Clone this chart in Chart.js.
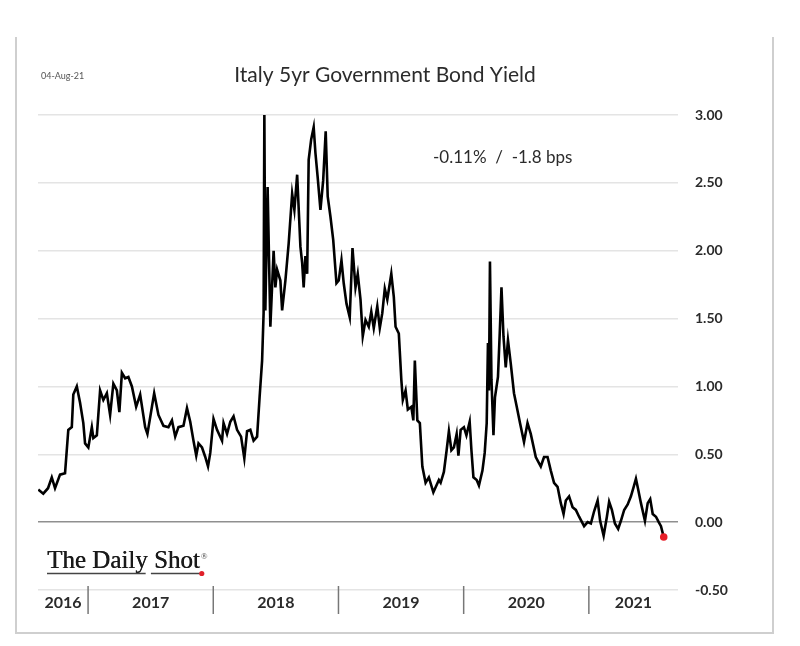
<!DOCTYPE html>
<html>
<head>
<meta charset="utf-8">
<script src="https://cdn.jsdelivr.net/npm/chart.js@4.4.1/dist/chart.umd.min.js"></script>
<style>
body{margin:0;background:#fff;}
</style>
</head>
<body>
<canvas id="c" width="800" height="646"></canvas>
<script>
// dates as decimal years, yields in %
const years = [2016.602,2016.642,2016.680,2016.710,2016.736,2016.776,2016.816,2016.842,2016.870,2016.882,2016.910,2016.936,2016.962,2016.976,2017.002,2017.030,2017.042,2017.070,2017.096,2017.122,2017.150,2017.176,2017.202,2017.230,2017.250,2017.270,2017.296,2017.322,2017.350,2017.384,2017.416,2017.456,2017.474,2017.510,2017.528,2017.562,2017.602,2017.642,2017.670,2017.696,2017.722,2017.762,2017.790,2017.816,2017.842,2017.864,2017.882,2017.910,2017.936,2017.958,2017.976,2018.002,2018.030,2018.070,2018.082,2018.110,2018.136,2018.162,2018.190,2018.222,2018.248,2018.270,2018.296,2018.322,2018.350,2018.370,2018.390,2018.402,2018.408,2018.416,2018.434,2018.456,
2018.482,2018.496,2018.510,2018.536,2018.550,2018.576,2018.602,2018.630,2018.648,2018.670,2018.696,2018.710,2018.722,2018.736,2018.750,2018.762,2018.782,2018.802,2018.816,2018.834,2018.856,2018.878,2018.898,2018.914,2018.936,2018.958,2018.984,2019.002,2019.024,2019.042,2019.064,2019.090,2019.112,2019.136,2019.154,2019.176,2019.194,2019.216,2019.242,2019.262,2019.282,2019.310,2019.330,2019.350,2019.370,2019.390,2019.422,2019.442,2019.456,2019.482,2019.502,2019.514,2019.536,2019.554,2019.582,2019.598,2019.610,2019.630,2019.650,2019.670,2019.696,2019.722,2019.758,2019.802,
2019.816,2019.842,2019.864,2019.882,2019.902,2019.922,2019.944,2019.958,2019.976,2020.002,2020.022,2020.048,2020.062,2020.078,2020.104,2020.122,2020.150,2020.168,2020.184,2020.194,2020.202,2020.210,2020.222,2020.238,2020.250,2020.274,2020.288,2020.302,2020.318,2020.336,2020.354,2020.376,2020.402,2020.424,2020.450,
2020.482,2020.510,2020.536,2020.576,2020.616,2020.642,2020.670,2020.696,2020.722,2020.750,2020.776,2020.798,2020.816,2020.842,2020.870,2020.896,2020.922,2020.962,2020.990,2021.016,2021.042,2021.070,2021.090,2021.118,2021.144,2021.162,2021.184,2021.208,2021.234,2021.256,2021.282,2021.310,2021.336,2021.358,2021.376,2021.394,2021.416,2021.448,2021.470,2021.490,2021.510,2021.536,2021.558,2021.576,2021.598];

const yields = [0.24,0.21,0.25,0.33,0.25,0.35,0.36,0.68,0.70,0.94,1.00,0.88,0.73,0.58,0.55,0.70,0.62,0.64,0.97,0.90,0.95,0.79,1.02,0.97,0.81,1.10,1.06,1.07,1.00,0.85,0.94,0.70,0.65,0.85,0.95,0.79,0.71,0.70,0.75,0.63,0.70,0.71,0.84,0.74,0.60,0.49,0.58,0.55,0.48,0.41,0.51,0.76,0.68,0.60,0.73,0.65,0.74,0.78,0.68,0.63,0.47,0.67,0.68,0.60,0.63,0.92,1.19,1.54,3.01,1.56,2.47,1.44,
2.00,1.73,1.86,1.78,1.56,1.78,2.05,2.42,2.30,2.56,2.03,1.91,1.73,1.96,1.83,2.67,2.82,2.91,2.72,2.54,2.30,2.52,2.88,2.40,2.25,2.08,1.76,1.78,1.93,1.76,1.61,1.51,2.02,1.73,1.83,1.64,1.37,1.49,1.44,1.55,1.43,1.59,1.43,1.54,1.72,1.64,1.83,1.66,1.44,1.39,1.05,0.90,0.97,0.83,0.85,0.75,1.19,0.75,0.73,0.41,0.29,0.33,0.22,0.31,
0.29,0.37,0.53,0.67,0.53,0.55,0.65,0.49,0.68,0.70,0.64,0.74,0.53,0.33,0.31,0.27,0.38,0.51,0.73,1.32,0.97,1.92,1.05,0.64,0.92,1.07,1.39,1.73,1.37,1.14,1.34,1.17,0.95,0.85,0.73,
0.59,0.73,0.65,0.48,0.41,0.48,0.48,0.38,0.29,0.26,0.14,0.06,0.16,0.19,0.11,0.09,0.04,-0.03,0.00,-0.01,0.08,0.16,0.01,-0.10,0.04,0.15,0.09,-0.01,-0.05,0.01,0.09,0.13,0.19,0.26,0.32,0.24,0.14,0.01,0.14,0.17,0.06,0.04,0.00,-0.03,-0.11];

const yTicks = [-0.5,0,0.5,1,1.5,2,2.5,3];
const yearLabels = [2016,2017,2018,2019,2020,2021];
const xMin = 2016.6, xMax = 2021.712;

const titleText = "Italy 5yr Government Bond Yield";
const dateText = "04-Aug-21";
const noteText = "-0.11%  /  -1.8 bps";

const pts = years.map((x,i)=>({x:x,y:yields[i]}));
const last = pts.length-1;

const deco = {
  id:"deco",
  afterDraw(chart){
    const c = chart.ctx;
    const xs = chart.scales.x;
    c.save();
    // frame (no top edge)
    c.strokeStyle="#cfcfcf"; c.lineWidth=2;
    c.beginPath();
    c.moveTo(16,37); c.lineTo(16,633); c.lineTo(773,633); c.lineTo(773,37);
    c.stroke();

    // title + date
    c.fillStyle="#2b2b2b"; c.textBaseline="middle";
    c.font='21px Lato'; c.textAlign="center";
    c.fillText(titleText,385,75);
    c.font='9px Lato'; c.textAlign="left"; c.fillStyle="#555";
    c.fillText(dateText,41,76);

    // note
    c.font='17px Lato'; c.fillStyle="#2b2b2b";
    c.fillText(noteText,433,158);

    // year separators + labels
    c.strokeStyle="#777"; c.lineWidth=1.5;
    yearLabels.forEach(yr=>{
      if(yr>xMin){
        const px = xs.getPixelForValue(yr);
        c.beginPath(); c.moveTo(px,586); c.lineTo(px,614); c.stroke();
      }
      const a = xs.getPixelForValue(Math.max(yr,xMin));
      const b = xs.getPixelForValue(Math.min(yr+1,xMax));
      c.font='bold 16px Lato'; c.fillStyle="#2b2b2b"; c.textAlign="center";
      c.fillText(String(yr),(a+b)/2,603);
    });

    // logo
    c.textAlign="left"; c.textBaseline="alphabetic";
    c.font='25px "Liberation Serif"'; c.fillStyle="#1a1a1a";
    const lx=47, ly=568;
    c.fillText("The Daily Shot",lx,ly);
    c.fillText("The Daily Shot",lx+0.4,ly);
    const w1=c.measureText("The Daily").width;
    const w2=c.measureText("The Daily ").width;
    const w3=c.measureText("The Daily Shot").width;
    c.strokeStyle="#444"; c.lineWidth=1.3;
    c.beginPath(); c.moveTo(lx,573.5); c.lineTo(lx+w1-2,573.5); c.stroke();
    c.beginPath(); c.moveTo(lx+w2-3,573.5); c.lineTo(lx+w3,573.5); c.stroke();
    c.fillStyle="#e0202a";
    c.beginPath(); c.arc(lx+w3+2,573.5,2.6,0,Math.PI*2); c.fill();
    c.fillStyle="#444"; c.font='9px "Liberation Serif"';
    c.fillText("\u00ae",lx+w3+1,559);
    c.restore();
  }
};

new Chart(document.getElementById("c"),{
  type:"line",
  data:{datasets:[{
    data:pts,
    borderColor:"#000",
    borderWidth:2.6,
    tension:0,
    pointRadius:ctx=>ctx.dataIndex===last?3.8:0,
    pointBackgroundColor:"#e8202a",
    pointBorderWidth:0
  }]},
  options:{
    responsive:false,
    animation:false,
    events:[],
    layout:{padding:{left:38,top:115,bottom:56,right:0}},
    plugins:{legend:{display:false},tooltip:{enabled:false}},
    scales:{
      x:{type:"linear",display:false,min:xMin,max:xMax},
      y:{
        position:"right",
        min:-0.5,max:3,
        afterBuildTicks:s=>{s.ticks=yTicks.map(v=>({value:v}));},
        afterFit:s=>{s.width=122;},
        border:{display:false},
        grid:{
          drawTicks:false,
          lineWidth:1.5,
          color:ctx=>ctx.tick && ctx.tick.value===0?"#8f8f8f":"#e4e4e4"
        },
        ticks:{
          padding:17,
          color:"#2b2b2b",
          font:{family:"Lato",weight:"bold",size:14},
          callback:v=>v.toFixed(2)
        }
      }
    }
  },
  plugins:[deco]
});
</script>
</body>
</html>
